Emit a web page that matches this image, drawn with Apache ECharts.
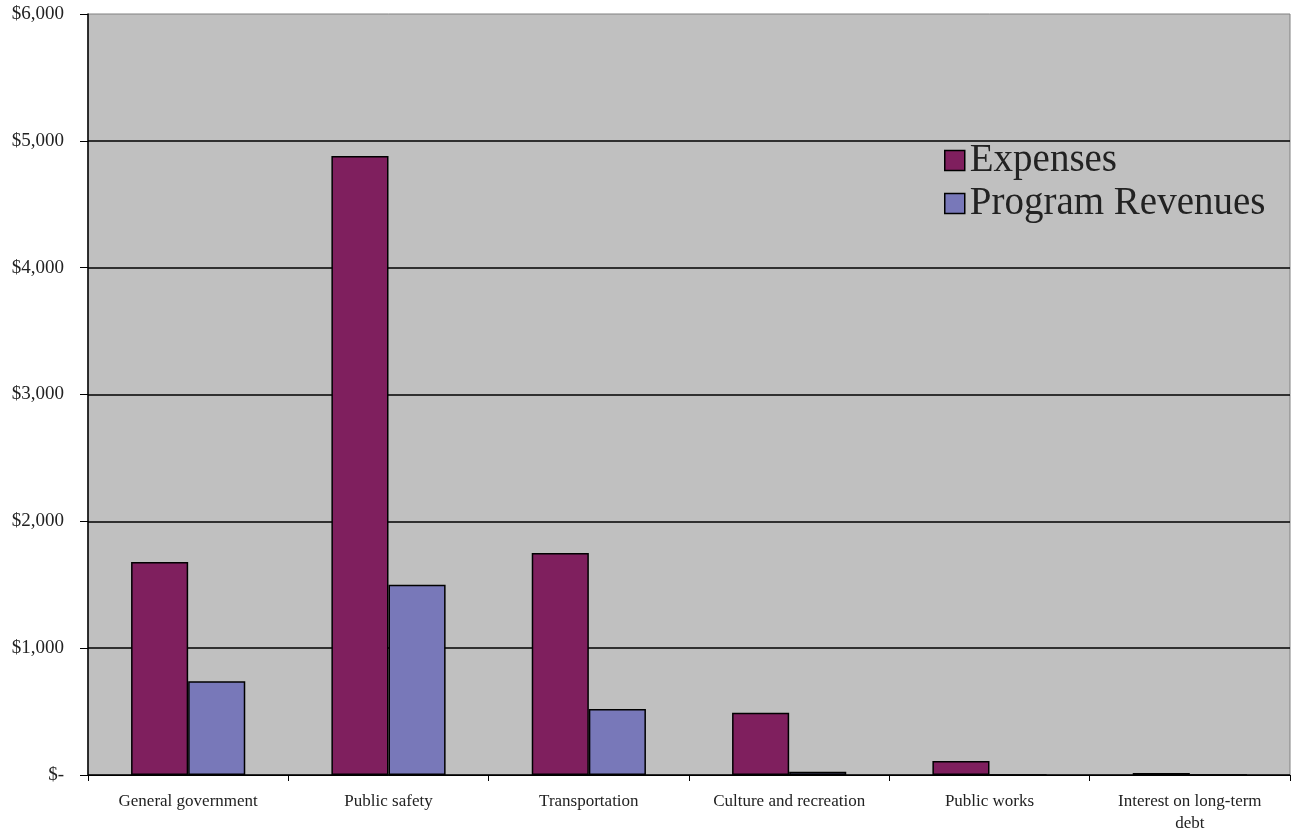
<!DOCTYPE html>
<html>
<head>
<meta charset="utf-8">
<script src="https://cdn.jsdelivr.net/npm/echarts@6/dist/echarts.min.js"></script>
<style>
html,body{margin:0;padding:0;background:#fff;}
#chart{width:1292px;height:835px;}
</style>
</head>
<body>
<div id="chart"></div>
<script>
const categories = ['General government', 'Public safety', 'Transportation', 'Culture and recreation', 'Public works', 'Interest on long-term debt'];
const expenses = [1680, 4880, 1750, 490, 110, 15];
const programRevenues = [740, 1500, 520, 25, 0, 0];
const yTicks = { min: 0, max: 6000, interval: 1000 };

const font = 'Liberation Serif, Times New Roman, serif';
const chart = echarts.init(document.getElementById('chart'), null, { renderer: 'canvas' });
chart.setOption({
  animation: false,
  backgroundColor: '#ffffff',
  grid: {
    left: 88, right: 2, top: 14, bottom: 60,
    show: true, backgroundColor: '#C0C0C0', borderColor: '#808080', borderWidth: 1
  },
  legend: {
    orient: 'vertical',
    left: 939, top: 136,
    itemWidth: 20, itemHeight: 20, itemGap: 4,
    icon: 'rect',
    textStyle: { fontFamily: font, fontSize: 39, color: '#222' },
    itemStyle: { borderColor: '#000', borderWidth: 1.5 },
    data: ['Expenses', 'Program Revenues']
  },
  xAxis: {
    type: 'category',
    data: categories,
    axisLine: { lineStyle: { color: '#000', width: 1 } },
    axisTick: { show: true, length: 6, lineStyle: { color: '#000' } },
    axisLabel: {
      fontFamily: font, fontSize: 17, color: '#222', margin: 16, lineHeight: 22,
      interval: 0,
      formatter: v => v.replace(' debt', '\ndebt')
    }
  },
  yAxis: {
    type: 'value',
    min: yTicks.min, max: yTicks.max, interval: yTicks.interval,
    axisLine: { show: true, lineStyle: { color: '#000', width: 1.5 } },
    axisTick: { show: true, length: 8, lineStyle: { color: '#000' } },
    splitLine: { show: true, showMaxLine: false, lineStyle: { color: '#000', width: 1.5 } },
    axisLabel: {
      fontFamily: font, fontSize: 19, color: '#222', margin: 24,
      formatter: v => v === 0 ? '$-' : '$' + v.toLocaleString('en-US')
    }
  },
  series: [
    {
      name: 'Expenses', type: 'bar', data: expenses,
      barGap: '0%', barCategoryGap: '43%',
      itemStyle: { color: '#7F1F5E', borderColor: '#000', borderWidth: 1.5 }
    },
    {
      name: 'Program Revenues', type: 'bar', data: programRevenues,
      itemStyle: { color: '#7878B9', borderColor: '#000', borderWidth: 1.5 }
    }
  ]
});
</script>
</body>
</html>
